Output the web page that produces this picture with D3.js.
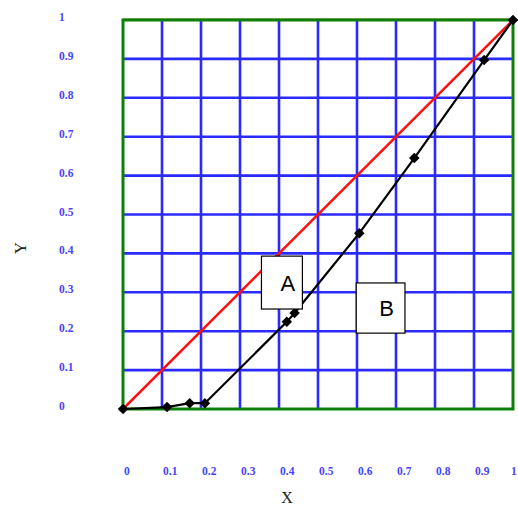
<!DOCTYPE html>
<html>
<head>
<meta charset="utf-8">
<script src="https://cdn.jsdelivr.net/npm/d3@7"></script>
<style>
  body { margin: 0; background: #fff; }
</style>
</head>
<body>
<svg id="chart" width="518" height="509"></svg>
<script>
// values
const ticks = [0, 0.1, 0.2, 0.3, 0.4, 0.5, 0.6, 0.7, 0.8, 0.9, 1];
const tickLabels = ['0', '0.1', '0.2', '0.3', '0.4', '0.5', '0.6', '0.7', '0.8', '0.9', '1'];
const diagonal = [[0, 0], [1, 1]];
const curveX = [0, 0.113, 0.171, 0.21, 0.42, 0.44, 0.606, 0.747, 0.926, 1];
const curveY = [0, 0.005, 0.015, 0.015, 0.224, 0.247, 0.452, 0.645, 0.897, 1];
const labels = ['A', 'B'];
const labelBoxes = [[0.355, 0.46, 0.257, 0.393], [0.598, 0.723, 0.195, 0.324]];

const svg = d3.select('#chart');
const margin = { left: 123, right: 5, top: 20, bottom: 100 };
const W = 518, H = 509;

const x = d3.scaleLinear().domain([0, 1]).range([margin.left, W - margin.right]);
const y = d3.scaleLinear().domain([0, 1]).range([H - margin.bottom, margin.top]);

// grid
const grid = svg.append('g').attr('stroke', '#2a2aff').attr('stroke-width', 2.6);
grid.selectAll('.gx').data(ticks.slice(1, -1)).join('line')
  .attr('x1', d => x(d)).attr('x2', d => x(d))
  .attr('y1', y(0)).attr('y2', y(1));
grid.selectAll('.gy').data(ticks.slice(1, -1)).join('line')
  .attr('x1', x(0)).attr('x2', x(1))
  .attr('y1', d => y(d)).attr('y2', d => y(d));

// frame
svg.append('line')
  .attr('x1', x(0)).attr('x2', x(1) + 2)
  .attr('y1', y(1) - 1.5).attr('y2', y(1) - 1.5)
  .attr('stroke', '#c9b48f').attr('stroke-width', 1);
svg.append('rect')
  .attr('x', x(0)).attr('y', y(1))
  .attr('width', x(1) - x(0)).attr('height', y(0) - y(1))
  .attr('fill', 'none').attr('stroke', '#0a800a').attr('stroke-width', 3);

// tick labels
const tickFont = 'Liberation Serif, Times New Roman, serif';
svg.append('g').selectAll('text').data(ticks).join('text')
  .attr('x', d => Math.min(x(d) + 1, W - 7))
  .attr('y', 475)
  .attr('font-family', tickFont).attr('font-size', 11.5).attr('font-weight', 'bold')
  .attr('fill', '#4545ff')
  .text((d, i) => tickLabels[i]);
svg.append('g').selectAll('text').data(ticks).join('text')
  .attr('x', 59)
  .attr('y', d => y(d) + 1)
  .attr('font-family', tickFont).attr('font-size', 11.5).attr('font-weight', 'bold')
  .attr('fill', '#4545ff')
  .text((d, i) => tickLabels[i]);

// axis titles
svg.append('text')
  .attr('x', 287).attr('y', 503)
  .attr('text-anchor', 'middle')
  .attr('font-family', tickFont).attr('font-size', 16)
  .attr('fill', '#222')
  .text('X');
svg.append('text')
  .attr('transform', 'translate(26,248) rotate(-90)')
  .attr('text-anchor', 'middle')
  .attr('font-family', tickFont).attr('font-size', 17)
  .attr('fill', '#222')
  .text('Y');

// red diagonal
svg.append('path')
  .datum(diagonal)
  .attr('d', d3.line().x(d => x(d[0])).y(d => y(d[1])))
  .attr('fill', 'none').attr('stroke', '#ff1010').attr('stroke-width', 2.5);

// black curve
const pts = curveX.map((v, i) => [v, curveY[i]]);
svg.append('path')
  .datum(pts)
  .attr('d', d3.line().x(d => x(d[0])).y(d => y(d[1])))
  .attr('fill', 'none').attr('stroke', '#000').attr('stroke-width', 2.2);
svg.append('g').selectAll('path').data(pts).join('path')
  .attr('transform', d => `translate(${x(d[0])},${y(d[1])})`)
  .attr('d', d3.symbol(d3.symbolDiamond2, 70))
  .attr('fill', '#000');

// A / B labels
const boxes = svg.append('g').selectAll('g').data(labelBoxes).join('g');
boxes.append('rect')
  .attr('x', d => x(d[0])).attr('y', d => y(d[3]))
  .attr('width', d => x(d[1]) - x(d[0]))
  .attr('height', d => y(d[2]) - y(d[3]))
  .attr('fill', '#fff').attr('stroke', '#000').attr('stroke-width', 1.2);
boxes.append('text')
  .attr('x', d => (x(d[0]) + x(d[1])) / 2 + 6)
  .attr('y', d => (y(d[2]) + y(d[3])) / 2 + 8)
  .attr('text-anchor', 'middle')
  .attr('font-family', 'Liberation Sans, Arial, sans-serif').attr('font-size', 22)
  .attr('fill', '#000')
  .text((d, i) => labels[i]);
</script>
</body>
</html>
